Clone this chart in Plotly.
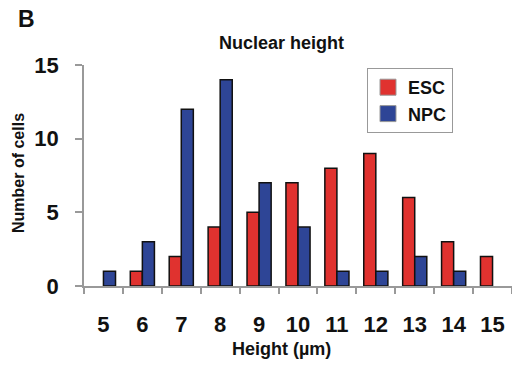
import plotly.graph_objects as go

heights = [5, 6, 7, 8, 9, 10, 11, 12, 13, 14, 15]
esc = [0, 1, 2, 4, 5, 7, 8, 9, 6, 3, 2]
npc = [1, 3, 12, 14, 7, 4, 1, 1, 2, 1, 0]
yticks = [0, 5, 10, 15]

FONT = "Liberation Sans"
RED = "#E0322F"
BLUE = "#2E4596"

def lw(vals):
    return [0 if v == 0 else 1.5 for v in vals]

fig = go.Figure()
fig.add_trace(go.Bar(x=heights, y=esc, name="ESC", showlegend=False,
                     marker=dict(color=RED, line=dict(color="#111111", width=lw(esc)))))
fig.add_trace(go.Bar(x=heights, y=npc, name="NPC", showlegend=False,
                     marker=dict(color=BLUE, line=dict(color="#111111", width=lw(npc)))))
# legend entries with larger square swatches
for name, col in [("ESC", RED), ("NPC", BLUE)]:
    fig.add_trace(go.Scatter(x=[None], y=[None], mode="markers", name=name,
                             marker=dict(symbol="square", size=19, color=col,
                                         line=dict(color="#999999", width=1))))

W0, H0 = 84, 286
PW, PH = 428, 221

def px(x):
    return (x - W0) / PW

def py(y):
    return (H0 - y) / PH

fig.update_layout(
    width=512, height=366,
    margin=dict(l=84, r=0, t=65, b=80, autoexpand=False),
    paper_bgcolor="white", plot_bgcolor="white",
    barmode="group", bargap=0.38, bargroupgap=0,
    font=dict(family=FONT, color="#111111"),
    showlegend=True,
    legend=dict(x=px(367), y=py(68), xanchor="left", yanchor="top",
                bordercolor="#999999", borderwidth=1, bgcolor="white",
                font=dict(size=18, family=FONT, weight="bold"),
                tracegroupgap=0, itemwidth=30),
)
fig.add_annotation(text="<b>B</b>", x=px(16), y=py(19), xref="paper", yref="paper", showarrow=False,
                   font=dict(size=23, family=FONT), xanchor="left", yanchor="middle")
fig.add_annotation(text="<b>Nuclear height</b>", x=px(281), y=py(43),
                   xref="paper", yref="paper", showarrow=False, font=dict(size=18, family=FONT),
                   xanchor="center", yanchor="middle")
fig.add_annotation(text="<b>Number of cells</b>", x=px(18), y=py(173),
                   xref="paper", yref="paper", showarrow=False, textangle=-90,
                   font=dict(size=16, family=FONT), xanchor="center", yanchor="middle")
fig.add_annotation(text="<b>Height (µm)</b>", x=px(281), y=py(349),
                   xref="paper", yref="paper", showarrow=False,
                   font=dict(size=18, family=FONT), xanchor="center", yanchor="middle")

fig.update_xaxes(
    automargin=False,
    range=[4.5, 15.5], tickmode="array", tickvals=heights, ticktext=[str(h) for h in heights],
    ticks="", showline=True, linecolor="#999999", linewidth=1.5, showgrid=False, zeroline=False,
    tickfont=dict(size=22, family=FONT, weight="bold"), ticklabelstandoff=18,
    minor=dict(tick0=4.5, dtick=1, ticks="outside", ticklen=6, tickcolor="#999999", tickwidth=1.5, showgrid=False),
)
fig.update_yaxes(
    automargin=False,
    range=[0, 15], tickvals=yticks, ticks="outside", ticklen=7, tickcolor="#999999", tickwidth=1.5,
    showline=True, linecolor="#999999", linewidth=1.5, showgrid=False, zeroline=False,
    tickfont=dict(size=22, family=FONT, weight="bold"), ticklabelstandoff=12,
)

fig.write_html("out.html", config={"displayModeBar": False},
               post_script="document.body.style.margin='0';")
